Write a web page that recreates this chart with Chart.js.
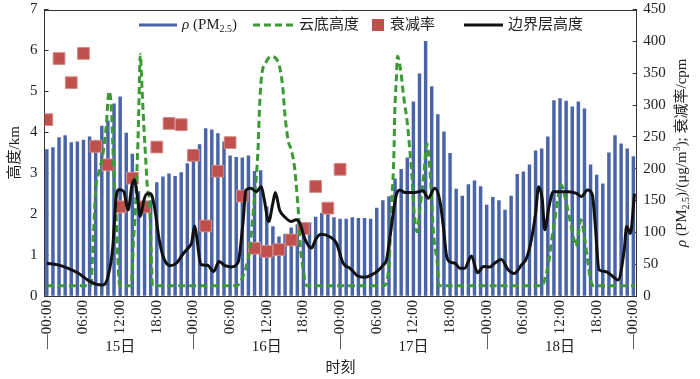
<!DOCTYPE html>
<html>
<head>
<meta charset="utf-8">
<script src="https://cdn.jsdelivr.net/npm/chart.js@4"></script>
<style>
  html, body { margin: 0; padding: 0; background: #fff; }
  canvas { display: block; }
</style>
</head>
<body>
<canvas id="chart" width="700" height="379"></canvas>
<script>
'use strict';

// hour 0 = 15日 00:00, one bar per hour (right axis, μg/m3)
const pm25 = [
  230, 233, 249, 252, 241, 242, 245, 250, 245, 267,
  275, 302, 313, 256, 223, 164, 150, 150, 178, 187,
  192, 188, 194, 208, 230, 238, 263, 261, 255, 242,
  220, 218, 217, 220, 196, 197, 140, 109, 93, 97,
  107, 112, 101, 115, 124, 130, 129, 123, 121, 121,
  123, 122, 122, 121, 138, 150, 156, 184, 199, 217,
  305, 349, 400, 329, 285, 258, 224, 168, 157, 175,
  181, 172, 143, 155, 150, 135, 157, 191, 195, 206,
  228, 231, 250, 307, 310, 306, 297, 305, 294, 206,
  190, 176, 225, 252, 239, 231, 219
];

// 衰减率 (cpm), every 2 hours
const decayHours = [0, 2, 4, 6, 8, 10, 12, 14, 16, 18, 20, 22, 24, 26, 28, 30, 32, 34, 36, 38, 40, 42, 44, 46, 48];
const decayRate = [277, 373, 335, 381, 235, 206, 140, 185, 140, 234, 271, 269, 221, 110, 196, 241, 157, 75, 70, 73, 88, 106, 172, 138, 199];

// 云底高度 (km)
const cloudHours = [
  0, 7.2, 7.6, 8.0, 8.4, 9.1, 9.7, 10.2, 10.6, 10.8, 11.0, 11.3, 11.6, 11.9,
  13.8, 14.2, 14.5, 14.7, 14.9, 15.05, 15.3, 15.6, 15.9, 16.2, 16.45, 16.8, 17.1, 17.3,
  31.1, 32.3, 33.1, 33.7, 34.1, 34.3, 34.6, 34.8, 35.1, 35.9, 36.7, 37.9, 38.6, 39.0, 39.5,
  40.0, 40.5, 41.0, 41.2, 41.4, 41.9, 42.5,
  55.1, 56.0, 56.2, 56.5, 56.8, 56.95, 57.2, 57.4, 57.9, 58.4, 59.0, 59.5, 59.8, 60.0,
  60.3, 60.6, 61.1, 61.7, 62.2, 62.7, 62.9, 63.3, 63.9, 64.2,
  81.1, 81.6, 82.2, 82.7, 83.3, 83.8, 84.2, 84.8, 85.5, 86.3, 86.6, 87.0, 87.4, 88.0,
  88.5, 89.0, 89.5, 96.3
];
const cloudKm = [
  0.25, 0.25, 1.4, 2.6, 2.95, 3.4, 4.1, 5.0, 4.5, 3.7, 2.9, 2.1, 1.0, 0.25,
  0.25, 1.4, 2.1, 2.9, 3.7, 4.55, 5.9, 5.0, 4.1, 3.3, 2.67, 2.3, 1.0, 0.25,
  0.25, 0.56, 1.04, 1.9, 2.6, 2.92, 3.7, 4.55, 5.3, 5.72, 5.85, 5.7, 5.12, 4.39, 3.8,
  3.57, 3.2, 2.4, 2.0, 1.37, 0.72, 0.25,
  0.25, 0.72, 1.37, 2.4, 3.41, 4.47, 5.29, 5.86, 5.53, 4.88, 4.23, 3.41, 2.84, 2.27,
  1.78, 1.57, 2.19, 2.95, 3.72, 3.1, 2.6, 1.53, 0.8, 0.25,
  0.25, 0.47, 0.88, 1.45, 2.02, 2.51, 2.72, 2.43, 1.94, 1.37, 1.21, 1.53, 1.86, 1.45,
  0.88, 0.39, 0.25, 0.25
];

// 边界层高度 (km)
const pblHours = [
  0, 1.8, 3.4, 5.1, 6.7, 8.0, 9.2, 10.0, 10.8, 11.3, 11.8, 12.6, 13.3, 13.9, 14.3, 14.9,
  15.3, 15.9, 16.4, 17.0, 17.6, 18.4, 19.2, 20.2, 21.2, 22.4, 23.3, 23.7, 24.2, 24.6,
  25.2, 26.3, 27.3, 28.2, 29.2, 30.2, 31.3, 32.1, 32.6, 33.4, 34.3, 35.1, 35.6, 36.3,
  37.0, 37.4, 38.1, 38.9, 40.0, 40.8, 41.4, 42.2, 43.3, 44.1, 44.9, 46.3, 47.4, 48.5,
  49.6, 50.9, 52.0, 53.1, 54.2, 55.0, 55.6, 56.1, 56.7, 57.2, 57.8, 58.6, 60.2, 61.6,
  62.4, 63.5, 64.3, 64.9, 65.4, 65.9, 66.8, 67.6, 68.4, 69.5, 70.5, 71.5, 72.5, 73.3,
  74.4, 75.5, 76.5, 77.7, 78.5, 79.3, 80.0, 80.5, 81.1, 81.5, 82.2, 82.9, 84.3, 85.4,
  86.7, 87.5, 88.5, 89.3, 89.7, 90.4, 91.4, 92.7, 93.5, 94.5, 94.9, 95.5, 96.2
];
const pblKm = [
  0.80, 0.76, 0.68, 0.56, 0.39, 0.29, 0.27, 0.47, 1.2, 2.35, 2.6, 2.55, 2.1, 2.67, 2.84, 2.35,
  1.94, 2.35, 2.5, 2.5, 2.19, 1.37, 0.9, 0.74, 0.8, 1.05, 1.2, 1.3, 1.71, 1.37,
  0.77, 0.75, 0.6, 0.84, 0.74, 0.71, 0.82, 1.78, 2.59, 2.63, 2.55, 2.67, 2.35, 1.82,
  2.27, 2.53, 2.1, 1.94, 1.82, 1.86, 1.78, 1.41, 1.17, 1.41, 1.51, 1.45, 1.29, 0.8,
  0.68, 0.49, 0.46, 0.51, 0.62, 0.75, 0.88, 1.37, 2.02, 2.47, 2.59, 2.53, 2.53, 2.57,
  2.39, 2.63, 2.35, 1.7, 1.0, 0.84, 0.8, 0.68, 0.68, 0.98, 0.57, 0.72, 0.71, 0.8,
  0.89, 0.64, 0.55, 0.76, 0.92, 1.37, 2.02, 2.67, 2.35, 1.62, 2.19, 2.55, 2.55, 2.55,
  2.51, 2.43, 2.59, 2.47, 1.86, 0.64, 0.6, 0.47, 0.39, 1.12, 1.7, 1.53, 2.5
];

const hourLabels = ['—00:00', '06:00', '12:00', '18:00'];
const dayLabels = ['15日', '16日', '17日', '18日'];

const hourTicks = [];
for (let h = 0; h <= 96; h += 6) hourTicks.push(h);
const dayTicks = [12, 36, 60, 84];

const serif = "'Liberation Serif', 'Noto Sans CJK SC', serif";
const barBlue = '#4a64aa';
const green = '#3c9a34';
const red = '#c0504d';
const axisColor = '#333';

Chart.defaults.font.family = serif;
Chart.defaults.font.size = 15;
Chart.defaults.color = '#222';

const xMin = -0.38, xMax = 96.55;

function drawRich(ctx, parts, x, y) {
  for (const p of parts) {
    const size = (p.sub || p.sup) ? 10 : 15;
    ctx.font = (p.italic ? 'italic ' : '') + size + 'px ' + serif;
    const dy = p.sub ? 4 : (p.sup ? -5 : 0);
    ctx.fillText(p.t, x, y + dy);
    x += ctx.measureText(p.t).width;
  }
  return x;
}

function richWidth(ctx, parts) {
  let w = 0;
  for (const p of parts) {
    const size = (p.sub || p.sup) ? 10 : 15;
    ctx.font = (p.italic ? 'italic ' : '') + size + 'px ' + serif;
    w += ctx.measureText(p.t).width;
  }
  return w;
}

const pmText = [{t: 'ρ', italic: true}, {t: ' (PM'}, {t: '2.5', sub: true}, {t: ')'}];
const rightTitle = [{t: 'ρ', italic: true}, {t: ' (PM'}, {t: '2.5', sub: true}, {t: ')/(μg/m'}, {t: '3', sup: true}, {t: '); 衰减率/cpm'}];

// legend inside the plot, top frame line, day labels, axis titles
const extras = {
  id: 'extras',
  afterDraw(chart) {
    const ctx = chart.ctx;
    const a = chart.chartArea;
    const xs = chart.scales.x;
    ctx.save();

    ctx.strokeStyle = axisColor;
    ctx.lineWidth = 1;
    ctx.beginPath();
    ctx.moveTo(a.left, Math.round(a.top) + 0.5);
    ctx.lineTo(a.right, Math.round(a.top) + 0.5);
    ctx.stroke();

    ctx.textBaseline = 'middle';
    ctx.fillStyle = '#222';
    ctx.font = '15px ' + serif;
    ctx.textAlign = 'center';
    dayTicks.forEach((v, i) => {
      ctx.fillText(dayLabels[i], xs.getPixelForValue(v), a.bottom + 51);
    });
    ctx.fillText('时刻', (a.left + a.right) / 2, a.bottom + 72);

    const ly = 25;
    ctx.textAlign = 'left';
    ctx.lineWidth = 3;

    ctx.strokeStyle = barBlue;
    ctx.beginPath(); ctx.moveTo(139, ly); ctx.lineTo(177, ly); ctx.stroke();
    drawRich(ctx, pmText, 182, ly);

    ctx.strokeStyle = green;
    ctx.setLineDash([7, 4]);
    ctx.beginPath(); ctx.moveTo(253, ly); ctx.lineTo(295, ly); ctx.stroke();
    ctx.setLineDash([]);
    ctx.font = '15px ' + serif;
    ctx.fillText('云底高度', 299, ly);

    ctx.fillStyle = red;
    ctx.fillRect(372, ly - 6, 12, 12);
    ctx.fillStyle = '#222';
    ctx.fillText('衰减率', 390, ly);

    ctx.strokeStyle = '#111';
    ctx.beginPath(); ctx.moveTo(464, ly); ctx.lineTo(503, ly); ctx.stroke();
    ctx.fillText('边界层高度', 508, ly);

    const w = richWidth(ctx, rightTitle);
    ctx.translate(682, (a.top + a.bottom) / 2);
    ctx.rotate(-Math.PI / 2);
    drawRich(ctx, rightTitle, -w / 2, 0);

    ctx.restore();
  }
};

let chart = new Chart(document.getElementById('chart'), {
  type: 'bar',
  data: {
    datasets: [{
      type: 'line',
      label: '边界层高度',
      data: pblHours.map((h, i) => ({x: h, y: pblKm[i]})),
      borderColor: '#111',
      borderWidth: 3,
      pointRadius: 0,
      cubicInterpolationMode: 'monotone',
      yAxisID: 'y',
      order: 1
    }, {
      type: 'line',
      label: '云底高度',
      data: cloudHours.map((h, i) => ({x: h, y: cloudKm[i]})),
      borderColor: green,
      borderWidth: 3,
      borderDash: [7, 4],
      pointRadius: 0,
      cubicInterpolationMode: 'monotone',
      yAxisID: 'y',
      order: 2
    }, {
      type: 'line',
      label: '衰减率',
      data: decayHours.map((h, i) => ({x: h, y: decayRate[i]})),
      showLine: false,
      pointStyle: 'rect',
      pointRadius: 8.3,
      backgroundColor: red,
      borderColor: '#d58a87',
      borderWidth: 1,
      yAxisID: 'y2',
      order: 3
    }, {
      type: 'bar',
      label: 'ρ (PM2.5)',
      data: pm25.map((v, h) => ({x: h, y: v})),
      backgroundColor: barBlue,
      barThickness: 2.8,
      yAxisID: 'y2',
      order: 4
    }]
  },
  options: {
    responsive: false,
    animation: false,
    events: [],
    layout: { padding: { top: 9.5, left: 0, right: 0, bottom: 24 } },
    plugins: {
      legend: { display: false },
      tooltip: { enabled: false }
    },
    scales: {
      x: {
        type: 'linear',
        position: 'bottom',
        min: xMin,
        max: xMax,
        offset: false,
        afterBuildTicks: (s) => { s.ticks = hourTicks.map(v => ({value: v})); },
        afterFit: (s) => { s.height = 59; s.paddingLeft = 0; s.paddingRight = 0; },
        grid: { drawOnChartArea: false, offset: false, tickLength: -4, color: axisColor },
        border: { color: axisColor, width: 1 },
        ticks: {
          autoSkip: false,
          minRotation: 90,
          maxRotation: 90,
          padding: 8,
          callback: (v) => hourLabels[Math.round(v / 6) % 4]
        }
      },
      y: {
        position: 'left',
        min: 0,
        max: 7,
        afterFit: (s) => { s.width = 44.5; s.paddingTop = 0; s.paddingBottom = 0; },
        grid: { drawOnChartArea: false, tickLength: -4, color: axisColor },
        border: { color: axisColor, width: 1 },
        ticks: { stepSize: 1, padding: 11 },
        title: { display: true, text: '高度/km', padding: { top: 6, bottom: 0 } }
      },
      y2: {
        position: 'right',
        min: 0,
        max: 450,
        afterFit: (s) => { s.width = 63.3; s.paddingTop = 0; s.paddingBottom = 0; },
        grid: { drawOnChartArea: false, tickLength: -4, color: axisColor },
        border: { color: axisColor, width: 1 },
        ticks: { stepSize: 50, padding: 10.5 }
      }
    }
  },
  plugins: [extras]
});
</script>
</body>
</html>
